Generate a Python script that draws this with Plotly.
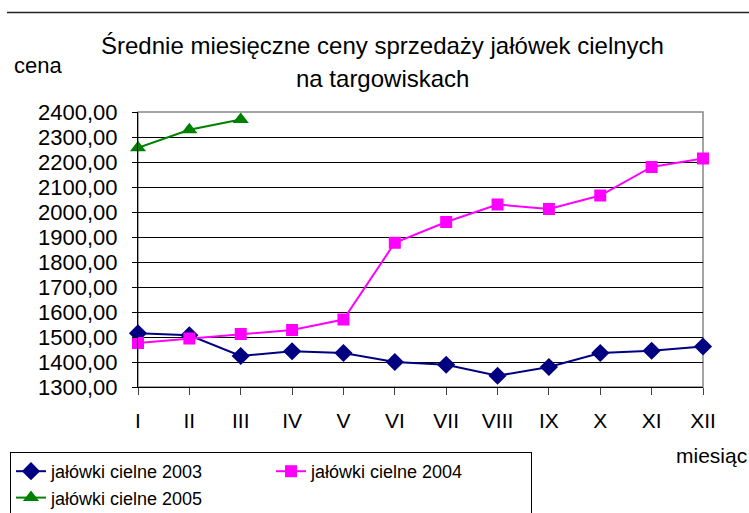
import plotly.graph_objects as go

months = ["I", "II", "III", "IV", "V", "VI", "VII", "VIII", "IX", "X", "XI", "XII"]
prices_2003 = [1515, 1507, 1424, 1443, 1436, 1400, 1389, 1345, 1380, 1436, 1445, 1462]
prices_2004 = [1476, 1494, 1512, 1528, 1570, 1877, 1960, 2030, 2012, 2066, 2180, 2214]
months_2005 = ["I", "II", "III"]
prices_2005 = [2257, 2329, 2370]
y_ticks = [1300, 1400, 1500, 1600, 1700, 1800, 1900, 2000, 2100, 2200, 2300, 2400]

FONT = "Liberation Sans, Arial, sans-serif"
xi = {m: i for i, m in enumerate(months)}

fig = go.Figure()
series = [
    ("jałówki cielne 2003", months, prices_2003, "#000080", "diamond", 14),
    ("jałówki cielne 2004", months, prices_2004, "#FF00FF", "square", 12),
    ("jałówki cielne 2005", months_2005, prices_2005, "#008000", "triangle-up", 14),
]
for name, ms, vals, col, sym, sz in series:
    fig.add_trace(go.Scatter(
        x=[xi[m] for m in ms], y=vals, name=name, mode="lines+markers",
        line=dict(color=col, width=2),
        marker=dict(symbol=sym, size=sz, color=col),
        cliponaxis=False,
    ))

W, H = 749, 513
L, R, T, B = 138, 749 - 703, 112, 513 - 387
PW, PH = W - L - R, H - T - B


def px(x):
    return (x - L) / PW


def py(y):
    return (H - y - B) / PH


fig.update_layout(
    width=W, height=H,
    margin=dict(l=L, r=R, t=T, b=B, autoexpand=False),
    paper_bgcolor="white", plot_bgcolor="white",
    font=dict(family=FONT, color="black"),
    separators=",.",
    xaxis=dict(
        range=[0, 11], automargin=False,
        tickvals=list(range(len(months))), ticktext=months,
        showgrid=False, zeroline=False,
        showline=True, linecolor="black", linewidth=1,
        ticks="outside", ticklen=7, tickcolor="#444", tickwidth=1,
        tickfont=dict(size=21, family=FONT),
        ticklabelstandoff=8,
    ),
    yaxis=dict(
        range=[1300, 2400], automargin=False,
        tickvals=y_ticks, tickformat=".2f",
        showgrid=True, gridcolor="black", gridwidth=1,
        zeroline=False,
        showline=True, linecolor="black", linewidth=1,
        ticks="outside", ticklen=5, tickcolor="black",
        tickfont=dict(size=22, family=FONT),
        ticklabelstandoff=10,
    ),
    showlegend=True,
    legend=dict(
        orientation="h", xref="container", yref="container",
        x=10 / W, y=(H - 452) / H, xanchor="left", yanchor="top",
        bordercolor="black", borderwidth=1, bgcolor="white",
        font=dict(size=18, family=FONT),
        entrywidth=215, entrywidthmode="pixels",
        itemwidth=30, tracegroupgap=0,
    ),
    shapes=[
        dict(type="line", xref="paper", yref="paper",
             x0=px(7), x1=px(W), y0=py(12.5), y1=py(12.5),
             line=dict(color="#222", width=1.5)),
        dict(type="rect", xref="paper", yref="paper", x0=0, x1=1, y0=0, y1=1,
             line=dict(color="#888", width=1.5), layer="below"),
    ],
    annotations=[
        dict(text="Średnie miesięczne ceny sprzedaży jałówek cielnych", xref="paper", yref="paper",
             x=px(382), y=py(45), showarrow=False,
             xanchor="center", yanchor="middle", font=dict(size=24, family=FONT)),
        dict(text="na targowiskach", xref="paper", yref="paper",
             x=px(382), y=py(79), showarrow=False,
             xanchor="center", yanchor="middle", font=dict(size=24, family=FONT)),
        dict(text="cena", xref="paper", yref="paper",
             x=px(12), y=py(65), showarrow=False,
             xanchor="left", yanchor="middle", font=dict(size=22, family=FONT)),
        dict(text="miesiąc", xref="paper", yref="paper",
             x=px(W), y=py(455), showarrow=False,
             xanchor="right", yanchor="middle", font=dict(size=21, family=FONT)),
    ],
)

fig.write_html("out.html", config={"displayModeBar": False},
               post_script="document.body.style.margin='0';")
